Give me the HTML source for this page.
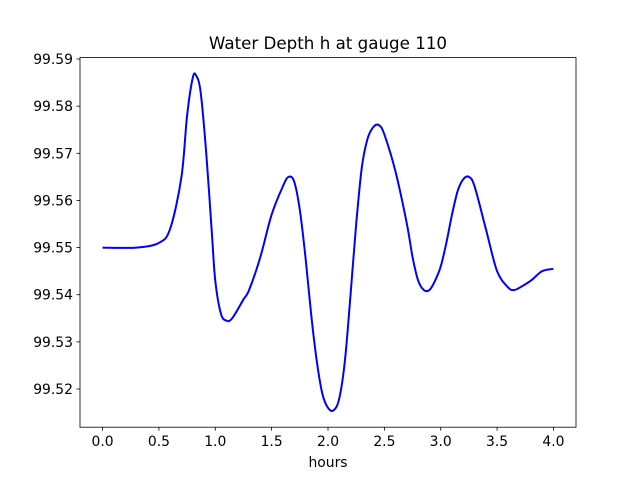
<!DOCTYPE html>
<html><head><meta charset="utf-8"><style>
body{margin:0;background:#fff}
svg{display:block;font-family:"DejaVu Sans","Liberation Sans",sans-serif}
</style></head><body>
<svg id="chart" width="640" height="480">
<rect x="0" y="0" width="640" height="480" fill="#fff"/>
<text x="328" y="49" text-anchor="middle" font-size="16.7">Water Depth h at gauge 110</text>
<g id="ticks"></g>
<path id="series" fill="none" stroke="#0000ff" stroke-width="2" stroke-linejoin="round"/>
<rect x="80" y="57.6" width="496" height="369.6" fill="none" stroke="#000" stroke-width="0.8"/>
<text x="328" y="467" text-anchor="middle" font-size="13.9">hours</text>
</svg>
<script>
const times=[0,0.3,0.5,0.6,0.7,0.75,0.8,0.83,0.87,0.92,0.97,1.0,1.05,1.1,1.15,1.25,1.3,1.4,1.5,1.6,1.65,1.7,1.75,1.8,1.85,1.9,1.95,2.0,2.05,2.1,2.15,2.2,2.25,2.3,2.35,2.4,2.45,2.5,2.6,2.7,2.75,2.8,2.85,2.9,2.95,3.0,3.05,3.1,3.15,3.2,3.25,3.3,3.4,3.5,3.6,3.65,3.7,3.8,3.9,4.0];
const depths=[99.550,99.550,99.551,99.554,99.565,99.578,99.586,99.5865,99.583,99.570,99.553,99.543,99.536,99.5345,99.535,99.539,99.541,99.548,99.557,99.563,99.565,99.564,99.558,99.548,99.536,99.526,99.519,99.516,99.5155,99.518,99.526,99.540,99.555,99.567,99.573,99.5755,99.576,99.574,99.566,99.555,99.548,99.543,99.541,99.541,99.543,99.546,99.551,99.557,99.562,99.5645,99.565,99.563,99.554,99.545,99.5415,99.541,99.5415,99.543,99.545,99.5455];
const xTicks=[0,0.5,1,1.5,2,2.5,3,3.5,4];
const xTickLabels=["0.0","0.5","1.0","1.5","2.0","2.5","3.0","3.5","4.0"];
const yTicks=[99.52,99.53,99.54,99.55,99.56,99.57,99.58,99.59];
const yTickLabels=["99.52","99.53","99.54","99.55","99.56","99.57","99.58","99.59"];
const X0=80,X1=576,Y0=427.2,Y1=57.6,xmin=-0.2,xmax=4.2,ymin=99.5119,ymax=99.5903;
const sx=v=>X0+(v-xmin)/(xmax-xmin)*(X1-X0);
const sy=v=>Y0-(v-ymin)/(ymax-ymin)*(Y0-Y1);
const NS="http://www.w3.org/2000/svg";
const g=document.getElementById('ticks');
function mk(t,a){const e=document.createElementNS(NS,t);for(const k in a)e.setAttribute(k,a[k]);g.appendChild(e);return e;}
xTicks.forEach((v,i)=>{
 const l=mk('line',{x1:sx(v),x2:sx(v),y1:Y0,y2:Y0+3.5,stroke:'#000','stroke-width':0.8});
 
 
 const t=mk('text',{x:sx(v),y:Y0+19,'text-anchor':'middle','font-size':13.9});
 t.textContent=xTickLabels[i];
 
 
});
yTicks.forEach((v,i)=>{
 const l=mk('line',{x1:X0-3.5,x2:X0,y1:sy(v),y2:sy(v),stroke:'#000','stroke-width':0.8});
 
 
 const t=mk('text',{x:X0-7,y:sy(v)+5,'text-anchor':'end','font-size':13.9});
 t.textContent=yTickLabels[i];
 
 
});
const pts=times.map((t,i)=>[sx(t),sy(depths[i])]);
let d='M'+pts[0][0].toFixed(2)+','+pts[0][1].toFixed(2);
for(let i=0;i<pts.length-1;i++){
 const p0=pts[Math.max(0,i-1)],p1=pts[i],p2=pts[i+1],p3=pts[Math.min(pts.length-1,i+2)];
 const c1=[p1[0]+(p2[0]-p0[0])/6,p1[1]+(p2[1]-p0[1])/6];
 const c2=[p2[0]-(p3[0]-p1[0])/6,p2[1]-(p3[1]-p1[1])/6];
 d+='C'+c1[0].toFixed(2)+','+c1[1].toFixed(2)+' '+c2[0].toFixed(2)+','+c2[1].toFixed(2)+' '+p2[0].toFixed(2)+','+p2[1].toFixed(2);
}
document.getElementById('series').setAttribute('d',d);
</script>
</body></html>
